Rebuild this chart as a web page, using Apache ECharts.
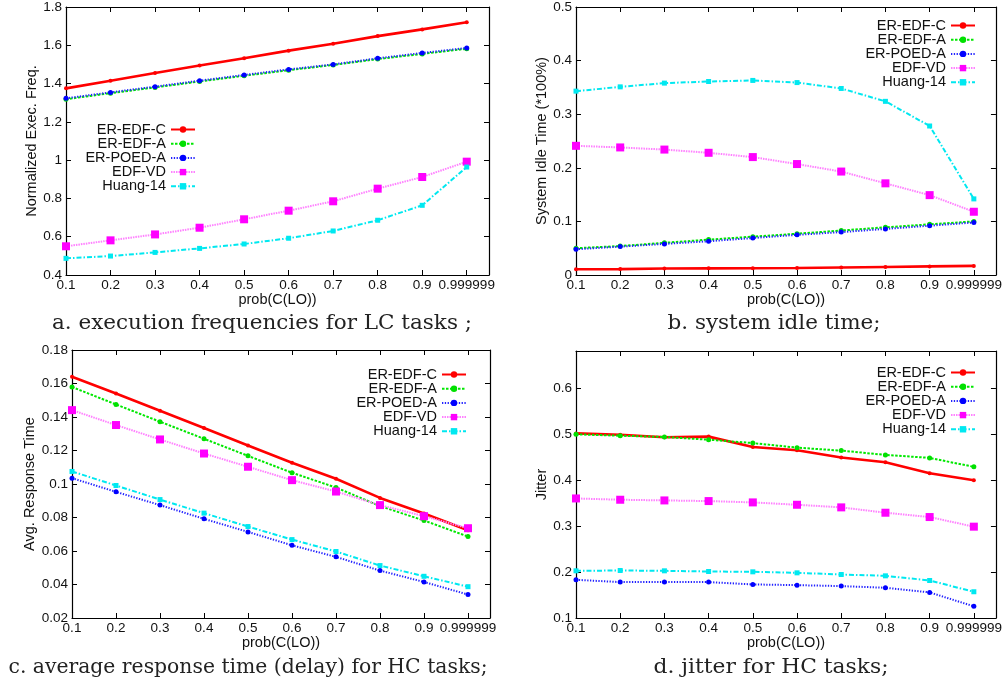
<!DOCTYPE html>
<html><head><meta charset="utf-8">
<script src="https://cdn.jsdelivr.net/npm/echarts@6/dist/echarts.min.js"></script>
<style>html,body{margin:0;padding:0;background:#fff}#c{width:1005px;height:685px}</style>
</head><body><div id="c"></div>
<script>
// ---------- data ----------
const xValues = [0.1, 0.2, 0.3, 0.4, 0.5, 0.6, 0.7, 0.8, 0.9, 0.999999];
const xTickValues = [0.1, 0.2, 0.3, 0.4, 0.5, 0.6, 0.7, 0.8, 0.9, 1.0];
const xTickLabels = ['0.1', '0.2', '0.3', '0.4', '0.5', '0.6', '0.7', '0.8', '0.9', '0.999999'];
const seriesNames = ['ER-EDF-C', 'ER-EDF-A', 'ER-POED-A', 'EDF-VD', 'Huang-14'];
const xAxisTitle = 'prob(C(LO))';

// a. execution frequencies for LC tasks
const freqEDFC  = [1.375, 1.415, 1.455, 1.494, 1.532, 1.572, 1.608, 1.648, 1.683, 1.720];
const freqEDFA  = [1.318, 1.350, 1.380, 1.411, 1.441, 1.470, 1.497, 1.528, 1.555, 1.582];
const freqPOEDA = [1.323, 1.354, 1.384, 1.415, 1.445, 1.474, 1.500, 1.532, 1.560, 1.586];
const freqEDFVD = [0.550, 0.581, 0.612, 0.647, 0.691, 0.736, 0.785, 0.851, 0.912, 0.992];
const freqHuang = [0.487, 0.499, 0.518, 0.539, 0.562, 0.592, 0.630, 0.686, 0.764, 0.964];
const freqTicks = [0.4, 0.6, 0.8, 1.0, 1.2, 1.4, 1.6, 1.8];

// b. system idle time
const idleEDFC  = [0.0106, 0.011, 0.012, 0.0124, 0.0125, 0.013, 0.014, 0.015, 0.016, 0.017];
const idleEDFA  = [0.050, 0.054, 0.060, 0.066, 0.0715, 0.077, 0.083, 0.089, 0.0945, 0.100];
const idlePOEDA = [0.048, 0.053, 0.058, 0.063, 0.069, 0.075, 0.080, 0.086, 0.092, 0.098];
const idleEDFVD = [0.241, 0.238, 0.234, 0.228, 0.220, 0.207, 0.193, 0.171, 0.149, 0.118];
const idleHuang = [0.343, 0.351, 0.358, 0.361, 0.363, 0.359, 0.348, 0.324, 0.278, 0.142];
const idleTicks = [0, 0.1, 0.2, 0.3, 0.4, 0.5];

// c. average response time
const respEDFC  = [0.164, 0.154, 0.1437, 0.1334, 0.123, 0.1127, 0.1031, 0.0917, 0.0824, 0.0724];
const respEDFA  = [0.1579, 0.1475, 0.1372, 0.127, 0.1168, 0.1067, 0.0979, 0.0868, 0.0782, 0.0686];
const respPOEDA = [0.1035, 0.0953, 0.0874, 0.0792, 0.0714, 0.0634, 0.0565, 0.0483, 0.0415, 0.034];
const respEDFVD = [0.1441, 0.1352, 0.1266, 0.1182, 0.1103, 0.1023, 0.0955, 0.0874, 0.0808, 0.0736];
const respHuang = [0.1075, 0.0991, 0.0907, 0.0826, 0.0746, 0.0668, 0.0597, 0.0513, 0.0449, 0.0387];
const respTicks = [0.02, 0.04, 0.06, 0.08, 0.1, 0.12, 0.14, 0.16, 0.18];

// d. jitter
const jitEDFC  = [0.501, 0.498, 0.4925, 0.494, 0.4716, 0.4644, 0.4485, 0.4384, 0.4146, 0.3994];
const jitEDFA  = [0.499, 0.496, 0.4932, 0.4874, 0.480, 0.470, 0.4636, 0.4543, 0.4478, 0.4283];
const jitPOEDA = [0.183, 0.178, 0.178, 0.178, 0.1729, 0.1714, 0.1693, 0.1657, 0.1556, 0.1253];
const jitEDFVD = [0.3597, 0.3569, 0.3554, 0.354, 0.3511, 0.346, 0.3403, 0.3287, 0.3193, 0.2984];
const jitHuang = [0.2025, 0.2032, 0.2025, 0.201, 0.2003, 0.1981, 0.1945, 0.1916, 0.1815, 0.157];
const jitTicks = [0.1, 0.2, 0.3, 0.4, 0.5, 0.6];

const yTitles = ['Normalized Exec. Freq.', 'System Idle Time (*100%)', 'Avg. Response Time', 'Jitter'];
const captions = ['a. execution frequencies for LC tasks ;', 'b. system idle time;',
  'c. average response time (delay) for HC tasks;', 'd. jitter for HC tasks;'];

// ---------- layout / style ----------
const panels = [
  {grid: {left: 66, top: 7, width: 423, height: 268}, ymin: 0.4, ymax: 1.8, yint: 0.2, ticks: freqTicks,
   data: [freqEDFC, freqEDFA, freqPOEDA, freqEDFVD, freqHuang], nameGap: 25.5, legend: {right: 809, top: 122},
   cap: {x: 262, y: 324, w: 420}},
  {grid: {left: 576, top: 7, width: 423, height: 268}, ymin: 0, ymax: 0.5, yint: 0.1, ticks: idleTicks,
   data: [idleEDFC, idleEDFA, idlePOEDA, idleEDFVD, idleHuang], nameGap: 26.5, legend: {right: 29, top: 18},
   cap: {x: 774, y: 324, w: 213}},
  {grid: {left: 72, top: 350, width: 418, height: 268}, ymin: 0.02, ymax: 0.18, yint: 0.02, ticks: respTicks,
   data: [respEDFC, respEDFA, respPOEDA, respEDFVD, respHuang], nameGap: 29.5, legend: {right: 538, top: 367},
   cap: {x: 248, y: 668, w: 479}},
  {grid: {left: 576, top: 351, width: 423, height: 267}, ymin: 0.1, ymax: 0.68, yint: 0.1, ticks: jitTicks,
   data: [jitEDFC, jitEDFA, jitPOEDA, jitEDFVD, jitHuang], nameGap: 26.5, legend: {right: 29, top: 365},
   cap: {x: 771, y: 668, w: 235}}
];

const styles = [
  {color: '#ff0000', line: {color: '#ff0000', width: 2.6, type: 'solid'}, symbol: 'circle', size: 4},
  {color: '#00e000', line: {color: '#00e800', width: 2, type: [2.5, 1.5]}, symbol: 'circle', size: 5},
  {color: '#0000ff', line: {color: '#2222ff', width: 2, type: [1.3, 1.5]}, symbol: 'circle', size: 5},
  {color: '#ff00ff', line: {color: '#ff80ff', width: 2, type: [1.5, 1]}, symbol: 'rect', size: 8},
  {color: '#00e8f0', line: {color: '#00e8f0', width: 2, type: [5, 2, 1.5, 2]}, symbol: 'rect', size: 5}
];

const FONT = '"Liberation Sans", Arial, sans-serif';
const labelColor = '#111';

function xLabelFmt(v) {
  for (let i = 0; i < xTickValues.length; i++) if (Math.abs(xTickValues[i] - v) < 1e-9) return xTickLabels[i];
  return '';
}

const grid = [], xAxis = [], yAxis = [], series = [], legend = [], graphic = [];
panels.forEach((p, k) => {
  grid.push(Object.assign({containLabel: false}, p.grid));
  const axisLine = {show: true, onZero: false, lineStyle: {color: '#000', width: 1.2}};
  xAxis[k] = {
    type: 'value', gridIndex: k, min: 0.1, max: 1.05, position: 'bottom',
    axisLine, splitLine: {show: false},
    axisTick: {show: true, inside: true, length: 5, customValues: xTickValues, lineStyle: {color: '#000'}},
    axisLabel: {show: true, customValues: xTickValues, formatter: xLabelFmt, margin: 3,
      fontSize: 13.5, fontFamily: FONT, color: labelColor},
    name: xAxisTitle, nameLocation: 'middle', nameGap: 16,
    nameTextStyle: {fontSize: 14.5, fontFamily: FONT, color: labelColor}
  };
  xAxis[k + 4] = {
    type: 'value', gridIndex: k, min: 0.1, max: 1.05, position: 'top',
    axisLine, splitLine: {show: false},
    axisTick: {show: true, inside: true, length: 5, customValues: xTickValues, lineStyle: {color: '#000'}},
    axisLabel: {show: false}
  };
  yAxis[k] = {
    type: 'value', gridIndex: k, min: p.ymin, max: p.ymax, interval: p.yint, position: 'left',
    axisLine, splitLine: {show: false},
    axisTick: {show: true, inside: true, length: 5, customValues: p.ticks, lineStyle: {color: '#000'}},
    axisLabel: {show: true, customValues: p.ticks, margin: 4, fontSize: 13.5, fontFamily: FONT, color: labelColor},
    name: yTitles[k], nameLocation: 'middle', nameGap: p.nameGap, nameRotate: 90,
    nameTextStyle: {fontSize: 14.5, fontFamily: FONT, color: labelColor}
  };
  yAxis[k + 4] = {
    type: 'value', gridIndex: k, min: p.ymin, max: p.ymax, interval: p.yint, position: 'right',
    axisLine, splitLine: {show: false},
    axisTick: {show: true, inside: true, length: 5, customValues: p.ticks, lineStyle: {color: '#000'}},
    axisLabel: {show: false}
  };
  p.data.forEach((arr, s) => {
    const st = styles[s];
    series.push({
      type: 'line', name: seriesNames[s], xAxisIndex: k, yAxisIndex: k,
      data: xValues.map((x, i) => [x, arr[i]]),
      symbol: st.symbol, symbolSize: st.size, showSymbol: true,
      itemStyle: {color: st.color},
      lineStyle: st.line,
      emphasis: {disabled: true}, z: 2 + s
    });
  });
  legend.push({
    data: seriesNames, orient: 'vertical', align: 'right', right: p.legend.right, top: p.legend.top,
    padding: 0, itemGap: -0.8, itemWidth: 24, itemHeight: 8, selectedMode: false,
    textStyle: {fontSize: 14.5, fontFamily: FONT, color: labelColor, lineHeight: 14.3}
  });
});

// captions (serif), width-fitted
const capFont = '"DejaVu Serif", serif';
const capSize = 20;
const ctx = document.createElement('canvas').getContext('2d');
ctx.font = capSize + 'px "DejaVu Serif"';
panels.forEach((p, k) => {
  const w = ctx.measureText(captions[k]).width || p.cap.w;
  graphic.push({
    type: 'text', x: p.cap.x, y: p.cap.y, scaleX: p.cap.w / w,
    style: {text: captions[k], fontSize: capSize, fontFamily: capFont, fill: '#222', align: 'center', verticalAlign: 'middle'}
  });
});

const chart = echarts.init(document.getElementById('c'), null, {renderer: 'canvas'});
chart.setOption({
  animation: false, backgroundColor: '#fff',
  grid, xAxis, yAxis, series, legend, graphic
});
</script>
</body></html>
